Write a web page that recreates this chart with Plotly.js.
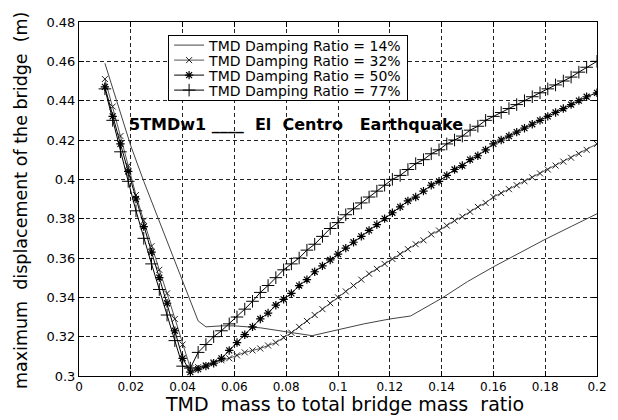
<!DOCTYPE html>
<html>
<head>
<meta charset="utf-8">
<script src="https://cdn.plot.ly/plotly-3.0.1.min.js"></script>
<style>html,body{margin:0;padding:0;background:#fff;}#chart{width:618px;height:420px;}</style>
</head>
<body>
<div id="chart"></div>
<script>
// mass ratio values for the marker curves
const massRatio = [0.010,0.013,0.016,0.019,0.022,0.025,0.028,0.031,0.034,0.037,
  0.040,0.043,0.046,0.049,0.052,0.055,0.058,0.061,0.064,0.067,
  0.070,0.073,0.076,0.079,0.082,0.085,0.088,0.091,0.094,0.097,
  0.100,0.103,0.106,0.109,0.112,0.115,0.118,0.121,0.124,0.127,
  0.130,0.133,0.136,0.139,0.142,0.145,0.148,0.151,0.154,0.157,
  0.160,0.163,0.166,0.169,0.172,0.175,0.178,0.181,0.184,0.187,
  0.190,0.193,0.196,0.200];

const disp32 = [0.451,0.437,0.422,0.407,0.392,0.379,0.366,0.354,0.342,0.329,
  0.316,0.304,0.3045,0.3055,0.307,0.308,0.309,0.3105,0.312,0.313,
  0.314,0.3155,0.317,0.3195,0.322,0.325,0.328,0.331,0.334,0.337,
  0.340,0.343,0.346,0.349,0.352,0.3545,0.357,0.3595,0.362,0.3645,
  0.367,0.369,0.372,0.374,0.3765,0.379,0.381,0.3835,0.386,0.388,
  0.391,0.393,0.395,0.397,0.399,0.401,0.403,0.405,0.407,0.409,
  0.411,0.413,0.415,0.418];

const disp50 = [0.447,0.432,0.418,0.404,0.390,0.376,0.363,0.350,0.337,0.323,
  0.309,0.302,0.3035,0.305,0.3065,0.309,0.313,0.317,0.321,0.325,
  0.329,0.332,0.336,0.339,0.342,0.346,0.349,0.353,0.356,0.359,
  0.362,0.365,0.368,0.371,0.374,0.377,0.380,0.383,0.386,0.389,
  0.391,0.394,0.397,0.399,0.402,0.405,0.407,0.410,0.412,0.415,
  0.418,0.420,0.422,0.424,0.426,0.428,0.430,0.432,0.434,0.436,
  0.438,0.440,0.442,0.444];

const disp77 = [0.446,0.430,0.414,0.399,0.384,0.370,0.357,0.344,0.331,0.318,
  0.305,0.304,0.312,0.316,0.320,0.323,0.3265,0.330,0.334,0.338,
  0.3425,0.346,0.350,0.354,0.357,0.360,0.364,0.367,0.371,0.375,
  0.378,0.382,0.385,0.388,0.391,0.394,0.397,0.400,0.402,0.405,
  0.408,0.410,0.413,0.415,0.418,0.420,0.422,0.425,0.427,0.430,
  0.432,0.434,0.436,0.438,0.440,0.442,0.444,0.446,0.448,0.450,
  0.452,0.4545,0.457,0.460];

// 14% curve (solid line only)
const massRatio14 = [0.010,0.015,0.020,0.025,0.030,0.035,0.040,0.044,0.046,0.049,
  0.055,0.060,0.070,0.080,0.090,0.100,0.110,0.120,0.128,0.140,
  0.150,0.160,0.170,0.180,0.190,0.200];
const disp14 = [0.459,0.438,0.417,0.399,0.382,0.366,0.349,0.335,0.328,0.325,
  0.3255,0.3255,0.3245,0.3225,0.3205,0.3235,0.3265,0.329,0.3305,0.3395,
  0.348,0.3555,0.3625,0.3695,0.376,0.3825];

const seriesNames = ['TMD Damping Ratio = 14%','TMD Damping Ratio = 32%','TMD Damping Ratio = 50%','TMD Damping Ratio = 77%'];
const xTicks = [0,0.02,0.04,0.06,0.08,0.1,0.12,0.14,0.16,0.18,0.2];
const xTickText = ['0','0.02','0.04','0.06','0.08','0.1','0.12','0.14','0.16','0.18','0.2'];
const yTicks = [0.3,0.32,0.34,0.36,0.38,0.4,0.42,0.44,0.46,0.48];
const yTickText = ['0.3','0.32','0.34','0.36','0.38','0.4','0.42','0.44','0.46','0.48'];

const traces = [
  {x: massRatio14, y: disp14, name: seriesNames[0], mode: 'lines',
   line: {color: '#444', width: 1}},
  {x: massRatio, y: disp32, name: seriesNames[1], mode: 'lines+markers',
   line: {color: '#555', width: 1},
   marker: {symbol: 'x-thin-open', size: 6, line: {color: '#222', width: 1}, color: '#222'}},
  {x: massRatio, y: disp50, name: seriesNames[2], mode: 'lines+markers',
   line: {color: '#000', width: 1},
   marker: {symbol: 'asterisk-open', size: 7, line: {color: '#000', width: 1.2}, color: '#000'}},
  {x: massRatio, y: disp77, name: seriesNames[3], mode: 'lines+markers',
   line: {color: '#000', width: 1},
   marker: {symbol: 'cross-thin-open', size: 9, line: {color: '#000', width: 1}, color: '#000'}}
];

const font = 'DejaVu Sans, Verdana, sans-serif';
const nb = '\u00a0';

const layout = {
  width: 618, height: 420,
  margin: {l: 79, r: 21, t: 22, b: 44, pad: 0},
  paper_bgcolor: '#fff', plot_bgcolor: '#fff',
  font: {family: font, color: '#000', size: 12},
  showlegend: true,
  legend: {x: 0.172, y: 0.963, xanchor: 'left', yanchor: 'top',
    bgcolor: '#fff', bordercolor: '#000', borderwidth: 1,
    font: {family: font, size: 14, color: '#000'}, tracegroupgap: 0},
  xaxis: {range: [0, 0.2], tickvals: xTicks, ticktext: xTickText,
    showline: true, linecolor: '#000', linewidth: 1, mirror: 'ticks',
    ticks: 'inside', ticklen: 5, tickcolor: '#000',
    showgrid: true, gridcolor: '#222', gridwidth: 1, griddash: '4px,3px',
    zeroline: false, tickfont: {family: font, size: 12, color: '#000'}},
  yaxis: {range: [0.3, 0.48], tickvals: yTicks, ticktext: yTickText,
    showline: true, linecolor: '#000', linewidth: 1, mirror: 'ticks',
    ticks: 'inside', ticklen: 5, tickcolor: '#000',
    showgrid: true, gridcolor: '#222', gridwidth: 1, griddash: '4px,3px',
    zeroline: false, tickfont: {family: font, size: 13, color: '#000'}},
  annotations: [
    {xref: 'x', yref: 'y', x: 0.0184, y: 0.428, xanchor: 'left', yanchor: 'middle',
     showarrow: false,
     text: '5TMDw1' + nb + '____' + nb + nb + 'El' + nb + nb + 'Centro' + nb + nb + nb + 'Earthquake',
     font: {family: font, size: 16, color: '#000', weight: 'bold'}},
    {xref: 'paper', yref: 'paper', x: 0.512, y: -0.08, xanchor: 'center', yanchor: 'middle',
     showarrow: false,
     text: 'TMD' + nb + nb + 'mass to total bridge mass' + nb + nb + 'ratio',
     font: {family: font, size: 19, color: '#000'}},
    {xref: 'paper', yref: 'paper', x: -0.112, y: 0.497, xanchor: 'center', yanchor: 'middle',
     showarrow: false, textangle: -90,
     text: 'maximum' + nb + nb + 'displacement of the bridge' + nb + nb + '(m)',
     font: {family: font, size: 17.5, color: '#000'}}
  ]
};

Plotly.newPlot('chart', traces, layout, {displayModeBar: false, staticPlot: true}).then(function (gd) {
  // compact the legend rows to match the tight spacing of the original figure
  var leg = gd.querySelector('.legend');
  if (!leg) return;
  var items = leg.querySelectorAll('.traces');
  var rowH = 15, firstY = 10;
  items.forEach(function (t, i) {
    var tr = t.getAttribute('transform') || '';
    var m = /translate\(\s*([-\d.e]+)/.exec(tr);
    var tx = m ? m[1] : '0';
    t.setAttribute('transform', 'translate(' + tx + ',' + (firstY + i * rowH) + ')');
  });
  var h = firstY * 2 + rowH * (items.length - 1);
  var bg = leg.querySelector('rect.bg');
  if (bg) bg.setAttribute('height', h);
});
</script>
</body>
</html>
